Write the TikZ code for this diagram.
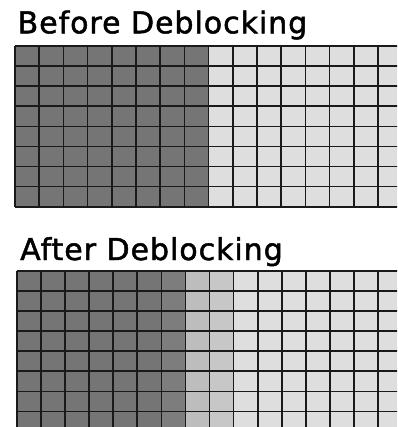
\documentclass[tikz,border=0pt]{standalone}
\usepackage{fontspec}
\newfontfamily\titlefont[FakeBold=1.6,LetterSpace=3.2]{DejaVu Sans}
\usepackage{tikz}
\definecolor{blockdark}{HTML}{757575}
\definecolor{blocklight}{HTML}{DEDEDE}
\definecolor{edgemid}{HTML}{7D7D7D}
\definecolor{filtdark}{HTML}{BDBDBD}
\definecolor{filtlight}{HTML}{C7C7C7}
\definecolor{gridink}{HTML}{1A1A1A}
\tikzset{
  titlelabel/.style={font=\fontsize{30}{34}\selectfont\titlefont,
    anchor=base west, inner sep=0pt},
  gridline/.style={draw=gridink, line width=1.6pt},
}

\begin{document}
\begin{tikzpicture}[x=1pt,y=-1pt]
\useasboundingbox (0,0) rectangle (397,427);
\clip (0,0) rectangle (397,427);

% before
\node[titlelabel] (before) at (17.5,33.3) {Before Deblocking};
\begin{scope}[shift={(15,46)}, x=24.2pt, y=-20.1pt]
  \fill[blockdark] (0,0) rectangle (8,8);
  \fill[blocklight] (8,0) rectangle (16,8);
  \foreach \i in {0,...,16} \draw[gridline] (\i,0) -- (\i,8);
  \foreach \j in {0,...,8} \draw[gridline] (0,\j) -- (16,\j);
\end{scope}

% after
\node[titlelabel] (after) at (20,260) {After Deblocking};
\begin{scope}[shift={(16.7,270.7)}, x=24.1pt, y=-20.1pt]
  \fill[blockdark] (0,0) rectangle (6,8);
  \fill[edgemid] (6,0) rectangle (7,8);
  \fill[filtdark] (7,0) rectangle (8,8);
  \fill[filtlight] (8,0) rectangle (9,8);
  \fill[blocklight] (9,0) rectangle (16,8);
  \foreach \i in {0,...,16} \draw[gridline] (\i,0) -- (\i,8);
  \foreach \j in {0,...,8} \draw[gridline] (0,\j) -- (16,\j);
\end{scope}
\end{tikzpicture}
\end{document}
